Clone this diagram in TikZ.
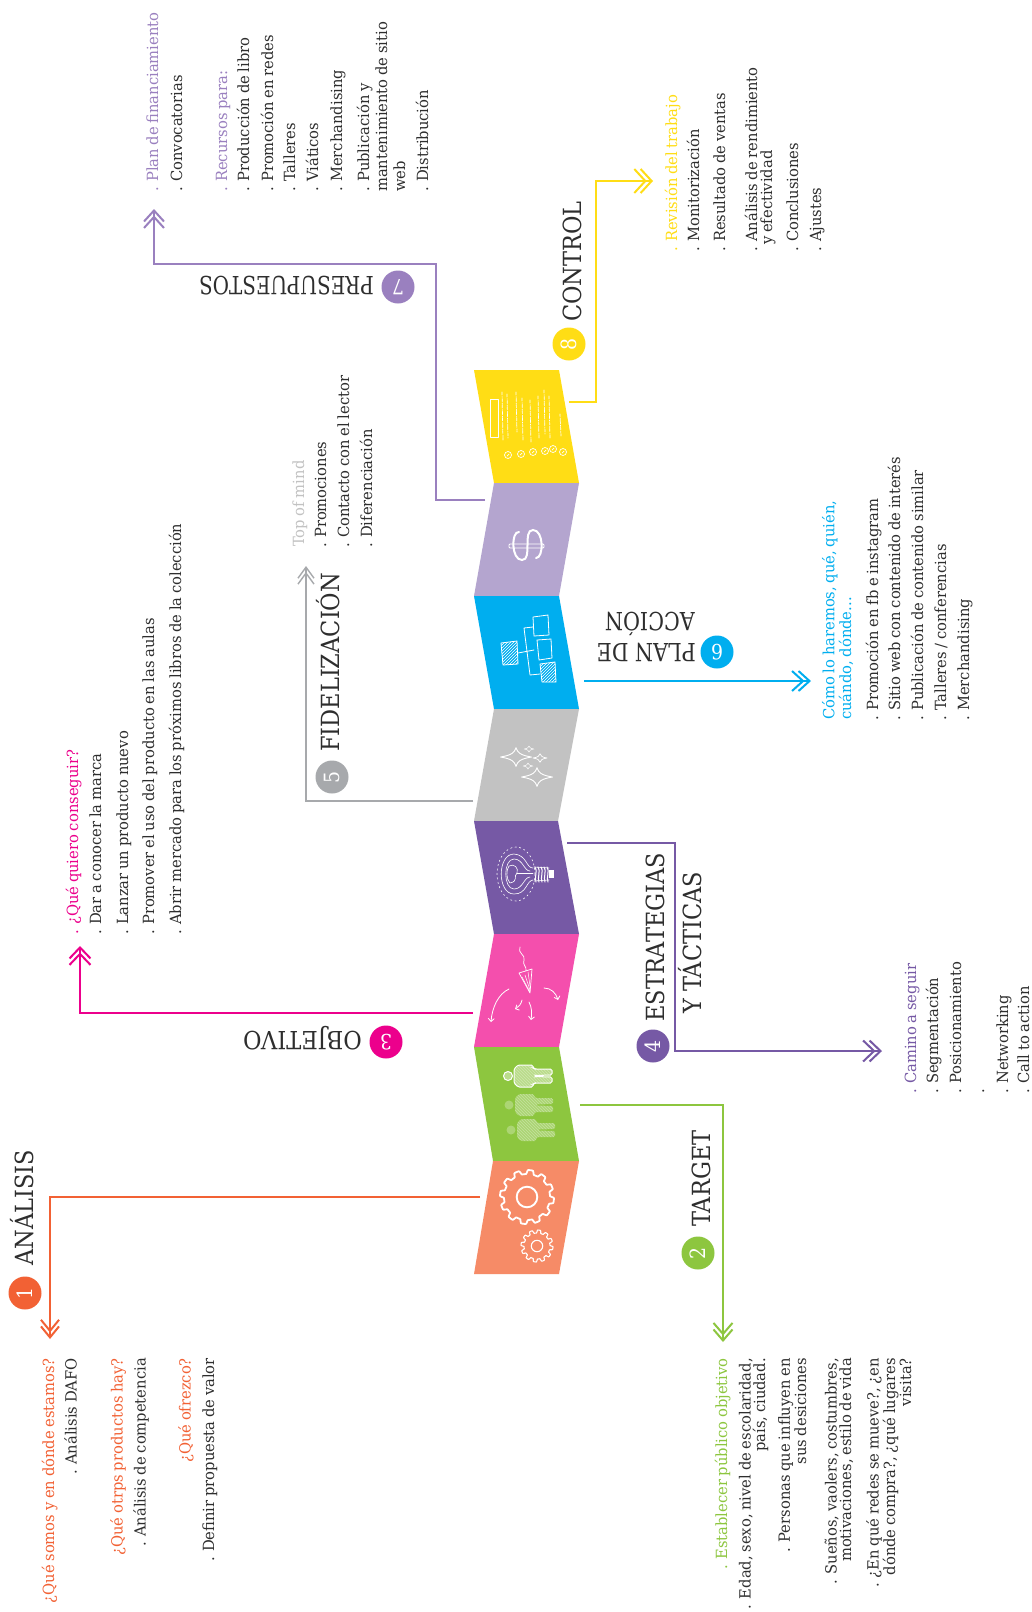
\documentclass[tikz,border=0pt]{standalone}
\usepackage{fontspec}
\usepackage{graphicx}
\setmainfont{DejaVu Serif}[FakeStretch=0.9]
\newfontfamily\bodyfam{DejaVu Serif}[FakeStretch=0.955,WordSpace=0.8]
\usetikzlibrary{arrows.meta,patterns}
\definecolor{cOrange}{HTML}{F26134}
\definecolor{cGreen}{HTML}{8DC63F}
\definecolor{cPink}{HTML}{EC008C}
\definecolor{cViolet}{HTML}{7659A5}
\definecolor{cGrey}{HTML}{A7A9AC}
\definecolor{cBlue}{HTML}{00AEEF}
\definecolor{cLilac}{HTML}{9A80BF}
\definecolor{cYellow}{HTML}{FFDD15}
\definecolor{cInk}{HTML}{2E2E2E}
\definecolor{pOrange}{HTML}{F68B67}
\definecolor{pPink}{HTML}{F44FAD}
\definecolor{pLilac}{HTML}{B4A5CF}
\definecolor{pGrey}{HTML}{C2C2C2}
\tikzset{
  bodyfont/.style={font=\bodyfam\fontsize{15.4}{14.5}\selectfont},
  txtup/.style={bodyfont,rotate=90,inner sep=0pt,text=cInk},
  upR/.style={txtup,anchor=base east,align=right},
  upL/.style={txtup,anchor=base west},
  headup/.style={font=\fontsize{25}{37}\selectfont,rotate=90,anchor=base west,inner sep=0pt,text=cInk},
  headdown/.style={font=\fontsize{25}{31}\selectfont,rotate=180,anchor=base west,inner sep=0pt,text=cInk},
  numc/.style={circle,minimum size=33pt,inner sep=0pt,text=white,font=\fontsize{21}{21}\selectfont},
  conn/.style={line width=2pt,line join=miter},
  dbl/.style={-{Straight Barb[width=#1,length=11pt,sep=-7pt]Straight Barb[width=#1,length=11pt]}},
  icon/.style={white,line width=.8pt,line cap=round,line join=round},
}
\newcommand\gearicon[6]{%
  \draw[white,line width=#6,line join=round] plot[domain=0:360,samples=217,variable=\t]
   ({#1+(#4+(#3-#4)*(0.5+0.5*max(-1,min(1,2.5*sin(#5*\t)))))*cos(\t)},
    {#2+(#4+(#3-#4)*(0.5+0.5*max(-1,min(1,2.5*sin(#5*\t)))))*sin(\t)}) -- cycle;}
\newcommand\personicon[4]{%
  \begin{scope}[shift={(#1,#2)}]
    \def\personpath{(6,-7) -- (10,-11) -- (25,-11) -- (25,-8) -- (27,-7) -- (44,-7) -- (44,-1) -- (27,-.5) -- (27,.5) -- (44,1) -- (44,7) -- (27,7) -- (25,8) -- (25,11) -- (10,11) -- (6,7) -- cycle}
    \fill[white,opacity=#3,rounded corners=1.5pt] \personpath;
    \fill[pattern=north west lines,pattern color=white,opacity=.3,rounded corners=1.5pt] \personpath;
    \fill[white,opacity=#3] (0,0) circle (4.5);
    \ifdim#4>0pt
    \draw[white,line width=#4,rounded corners=1.5pt] \personpath;
    \draw[white,line width=#4] (0,0) circle (4.5);
    \fi
  \end{scope}}
\newcommand\sparkle[4]{%
  \draw[icon,line width=#4] (#1-#3,#2) .. controls (#1-.25*#3,#2-.12*#3) and (#1-.1*#3,#2-.3*#3) .. (#1,#2-.6*#3)
    .. controls (#1+.1*#3,#2-.3*#3) and (#1+.25*#3,#2-.12*#3) .. (#1+#3,#2)
    .. controls (#1+.25*#3,#2+.12*#3) and (#1+.1*#3,#2+.3*#3) .. (#1,#2+.6*#3)
    .. controls (#1-.1*#3,#2+.3*#3) and (#1-.25*#3,#2+.12*#3) .. cycle;}
\begin{document}
\begin{tikzpicture}[x=1pt,y=-1pt]
\useasboundingbox[fill=white] (0,0) rectangle (1032,1612);
% ---------- zigzag panels
\fill[cYellow] (474,370) -- (559,370) -- (579,483) -- (494,483) -- cycle;
\fill[pLilac] (494,483) -- (579,483) -- (559,596) -- (474,596) -- cycle;
\fill[cBlue] (474,596) -- (559,596) -- (579,709) -- (494,709) -- cycle;
\fill[pGrey] (494,709) -- (579,709) -- (558,821) -- (474,821) -- cycle;
\fill[cViolet] (474,821) -- (558,821) -- (579,934) -- (494,934) -- cycle;
\fill[pPink] (494,934) -- (579,934) -- (559,1047) -- (474,1047) -- cycle;
\fill[cGreen] (474,1047) -- (559,1047) -- (579,1161) -- (493,1161) -- cycle;
\fill[pOrange] (493,1161) -- (579,1161) -- (559,1274) -- (474,1274) -- cycle;
% ---------- icons: gears
\gearicon{527}{1197}{27}{23}{12}{1.8pt}
\draw[white,line width=1.9pt] (527,1197) circle (10.3);
\gearicon{537}{1246}{16}{13}{12}{1.1pt}
\draw[white,line width=1.1pt] (537,1246) circle (5.7);
% persons
\personicon{508}{1076}{.4}{1pt}
\personicon{509}{1105}{.28}{0pt}
\personicon{511}{1130}{.28}{0pt}
% target and arrows
\draw[icon,line width=.7pt] (520,947) .. controls (517,953) and (526,955) .. (524,960) .. controls (522,965) and (527,966) .. (526,971);
\draw[icon,line width=.7pt] (519,973) -- (532,969) -- (530,993) -- cycle;
\draw[icon,line width=.5pt] (522,977) -- (530,992) (525,975) -- (530,990) (528,972) -- (530,986);
\draw[icon,-{Straight Barb[width=6pt,length=3pt]}] (509,989) .. controls (498,994) and (492,1008) .. (491,1022);
\draw[icon,-{Straight Barb[width=6pt,length=3pt]}] (522,1000) .. controls (521,1004) and (519,1007) .. (515,1009);
\draw[icon,-{Straight Barb[width=6pt,length=3pt]}] (529,1002) .. controls (532,1008) and (532,1013) .. (531,1020);
\draw[icon,-{Straight Barb[width=6pt,length=3pt]}] (544,988) .. controls (551,988) and (556,993) .. (558,1000);
% bulb
\begin{scope}[icon,line width=.6pt]
\draw (533,868) .. controls (526,868) and (527,855) .. (514,854) .. controls (497,854) and (497,894) .. (514,894) .. controls (527,894) and (526,881) .. (533,880);
\draw (530,871) .. controls (524,871) and (523,859) .. (514,859) .. controls (503,859) and (503,889) .. (514,889) .. controls (523,889) and (524,877) .. (530,877);
\draw (509,866) .. controls (514,863) and (519,868) .. (517,873) .. controls (513,876) and (519,881) .. (510,883) .. controls (506,879) and (506,870) .. (509,866);
\draw (517,873) -- (533,873);
\foreach \sx in {535,538,541,544,547} {\draw[line width=1pt] (\sx,867) .. controls (\sx+3,870) and (\sx-1,878) .. (\sx+1,882);}
\draw (534,867) -- (549,868) (534,881) -- (549,880);
\fill[white] (549,870) rectangle (554,878);
\draw[dash pattern=on 1.5pt off 3pt] (516,874) ellipse (19 and 27);
\end{scope}
% sparkles
\sparkle{516}{757}{15.5}{.9pt}
\sparkle{537}{777}{15.5}{.9pt}
\sparkle{529}{749}{5}{.5pt}
\sparkle{540}{758}{7}{.7pt}
\sparkle{528}{766}{5}{.5pt}
% org chart
\begin{scope}[icon,line width=.8pt]
\filldraw[pattern=north east lines,pattern color=white] (501,643) -- (517,641) -- (518,664) -- (503,665) -- cycle;
\draw (518,653) -- (534,650);
\draw (524,628) -- (533,627) (524,628) -- (530,675) -- (540,674);
\draw (533,617) -- (548,615) -- (549,635) -- (534,636) -- cycle;
\draw (537,640) -- (551,639) -- (552,658) -- (539,660) -- cycle;
\filldraw[pattern=north east lines,pattern color=white] (540,664) -- (555,662) -- (556,682) -- (542,682) -- cycle;
\end{scope}
% dollar
\draw[white,line width=2pt,line cap=round] (519,532) .. controls (511,531) and (511,560) .. (522,560) .. controls (533,560) and (522,530) .. (533,530) .. controls (544,530) and (544,558) .. (536,558);
\draw[white,line width=.8pt,rounded corners=1pt] (509,544) rectangle (544,548);
% document
\begin{scope}[icon,line width=.7pt]
\draw (490,399) rectangle (498,437);
\foreach \dx/\dy/\dz in {502/392/440,507/394/438,516/392/432,522/398/440,530/400/442,538/396/438,544/390/434,549/396/438,560/414/436} {
  \draw[dash pattern=on 3pt off 1.5pt on 1pt off 1pt] (\dx,\dy) -- (\dx+1,\dz);}
\foreach \cx/\cy in {508/455,521/454,533/452,545/451,553/449,563/452} {
  \draw (\cx,\cy) circle (3.5); \draw (\cx-1,\cy+1) -- (\cx+1,\cy-1);}
\end{scope}
% ---------- connector coordinates
\coordinate (s1) at (480,1197); \coordinate (b1) at (50,1197); \coordinate (e1) at (50,1339);
\coordinate (s2) at (580,1105); \coordinate (b2) at (723,1105); \coordinate (e2) at (723,1342);
\coordinate (s3) at (473,1013); \coordinate (b3) at (80,1013); \coordinate (e3) at (80,946);
\coordinate (s4) at (567,843); \coordinate (b4) at (675,843); \coordinate (c4) at (675,1051); \coordinate (e4) at (882,1051);
\coordinate (s5) at (473,801); \coordinate (b5) at (306,801); \coordinate (e5) at (306,566);
\coordinate (s6) at (584,681); \coordinate (e6) at (811,681);
\coordinate (s7) at (485,500); \coordinate (b7) at (436,500); \coordinate (c7) at (436,264); \coordinate (d7) at (154,264); \coordinate (e7) at (154,209);
\coordinate (s8) at (569,402); \coordinate (b8) at (596,402); \coordinate (c8) at (596,181); \coordinate (e8) at (653,181);
\draw[conn,cOrange,dbl=18pt] (s1) -- (b1) -- (e1);
\draw[conn,cGreen,dbl=19pt] (s2) -- (b2) -- (e2);
\draw[conn,cPink,dbl=21pt] (s3) -- (b3) -- (e3);
\draw[conn,cViolet,dbl=21pt] (s4) -- (b4) -- (c4) -- (e4);
\draw[conn,line width=1.4pt,cGrey,dbl=16pt] (s5) -- (b5) -- (e5);
\draw[conn,cBlue,dbl=20pt] (s6) -- (e6);
\draw[conn,cLilac,dbl=20pt] (s7) -- (b7) -- (c7) -- (d7) -- (e7);
\draw[conn,cYellow,dbl=24pt] (s8) -- (b8) -- (c8) -- (e8);
% ---------- number badges
\node[numc,fill=cOrange,rotate=90] (n1) at (25,1293) {1};
\node[numc,fill=cGreen,rotate=90] (n2) at (698,1253) {2};
\node[numc,fill=cPink,rotate=180] (n3) at (386,1042) {3};
\node[numc,fill=cViolet,rotate=90] (n4) at (653,1046) {4};
\node[numc,fill=cGrey,rotate=90] (n5) at (332,777) {5};
\node[numc,fill=cBlue,rotate=180] (n6) at (717,652) {6};
\node[numc,fill=cLilac,rotate=180] (n7) at (398,287) {7};
\node[numc,fill=cYellow,rotate=90] (n8) at (569,344) {8};
% ---------- headings
\node[headup] (h1) at (34,1266) {ANÁLISIS};
\node[headup] (h2) at (710,1227) {TARGET};
\node[headdown] (h3) at (362,1031) {OBJETIVO};
\node[headup] (h4a) at (664,1022) {ESTRATEGIAS};
\node[headup] (h4b) at (701,1014) {Y TÁCTICAS};
\node[headup] (h5) at (339,752) {FIDELIZACIÓN};
\node[headdown] (h6a) at (696,643) {\scalebox{.92}[1]{PLAN DE}};
\node[headdown] (h6b) at (695,612) {\scalebox{.92}[1]{ACCIÓN}};
\node[headdown] (h7) at (374,276) {\scalebox{.885}[1]{PRESUPUESTOS}};
\node[headup] (h8) at (581,322) {CONTROL};
% ---------- 1 analisis
\node[upR,text=cOrange] (a1) at (54,1358) {¿Qué somos y en dónde estamos?};
\node[upR] (a2) at (76.5,1358) {. Análisis DAFO};
\node[upR,text=cOrange] (a3) at (122.5,1358) {¿Qué otrps productos hay?};
\node[upR] (a4) at (145.5,1358) {. Análisis de competencia};
\node[upR,text=cOrange] (a5) at (190.5,1358) {¿Qué ofrezco?};
\node[upR] (a6) at (214,1358) {. Definir propuesta de valor};
% ---------- 2 target
\node[upR,text=cGreen] (b01) at (727,1358) {. Establecer público objetivo};
\node[upR] (b02) at (765,1358) {. Edad, sexo, nivel de escolaridad,\\país, ciudad.};
\node[upR] (b03) at (806,1358) {. Personas que influyen en\\sus desiciones};
\node[upR] (b04) at (851,1358) {. Sueños, vaolers, costumbres,\\motivaciones, estilo de vida};
\node[upR] (b05) at (911,1358) {. ¿En qué redes se mueve?, ¿en\\dónde compra?, ¿qué lugares\\visita?};
% ---------- 3 objetivo
\node[upL,text=cPink] (c1) at (78,935) {. ¿Qué quiero conseguir?};
\node[upL] (c2) at (101,935) {. Dar a conocer la marca};
\node[upL] (c3) at (128,935) {. Lanzar un producto nuevo};
\node[upL] (c4t) at (154,935) {. Promover el uso del producto en las aulas};
\node[upL] (c5) at (181,935) {. Abrir mercado para los próximos libros de la colección};
% ---------- 4 estrategias
\node[upL,text=cViolet] (d1) at (916,1094) {. Camino a seguir};
\node[upL] (d2) at (938,1094) {. Segmentación};
\node[upL] (d3) at (961,1094) {. Posicionamiento};
\node[upL] (d4) at (984,1094) {.};
\node[upL] (d5) at (1008,1094) {. Networking};
\node[upL] (d6) at (1029,1094) {. Call to action};
% ---------- 5 fidelizacion
\node[upL,text=pGrey] (f1) at (304,547) {Top of mind};
\node[upL] (f2) at (326,548) {. Promociones};
\node[upL] (f3) at (349,548) {. Contacto con el lector};
\node[upL] (f4) at (372,548) {. Diferenciación};
% ---------- 6 plan de accion
\node[upL,align=left,text=cBlue] (g1) at (851,720) {Cómo lo haremos, qué, quién,\\cuándo, dónde...};
\node[upL] (g2) at (878,721) {. Promoción en fb e instagram};
\node[upL] (g3) at (900,721) {. Sitio web con contenido de interés};
\node[upL] (g4) at (923,721) {. Publicación de contenido similar};
\node[upL] (g5) at (946,721) {. Talleres / conferencias};
\node[upL] (g6) at (969,721) {. Merchandising};
% ---------- 7 presupuestos
\node[upL,text=cLilac] (k1) at (158,192) {. Plan de financiamiento};
\node[upL] (k2) at (182,192) {. Convocatorias};
\node[upL,text=cLilac] (k3) at (227,192) {. Recursos para:};
\node[upL] (k4) at (249,192) {. Producción de libro};
\node[upL] (k5) at (273,192) {. Promoción en redes};
\node[upL] (k6) at (295,192) {. Talleres};
\node[upL] (k7) at (318,192) {. Viáticos};
\node[upL] (k8) at (342,192) {. Merchandising};
\node[upL] (k9) at (369,192) {. Publicación y};
\node[upL] (k10) at (387,192) {mantenimiento de sitio};
\node[upL] (k11) at (405,192) {web};
\node[upL] (k12) at (428,192) {. Distribución};
% ---------- 8 control
\node[upL,text=cYellow] (m1) at (677,252) {. Revisión del trabajo};
\node[upL] (m2) at (699,252) {. Monitorización};
\node[upL] (m3) at (725,252) {. Resultado de ventas};
\node[upL] (m4) at (757,252) {. Análisis de rendimiento};
\node[upL] (m5) at (772,245) {y efectividad};
\node[upL] (m6) at (798,252) {. Conclusiones};
\node[upL] (m7) at (821,252) {. Ajustes};
\end{tikzpicture}
\end{document}
